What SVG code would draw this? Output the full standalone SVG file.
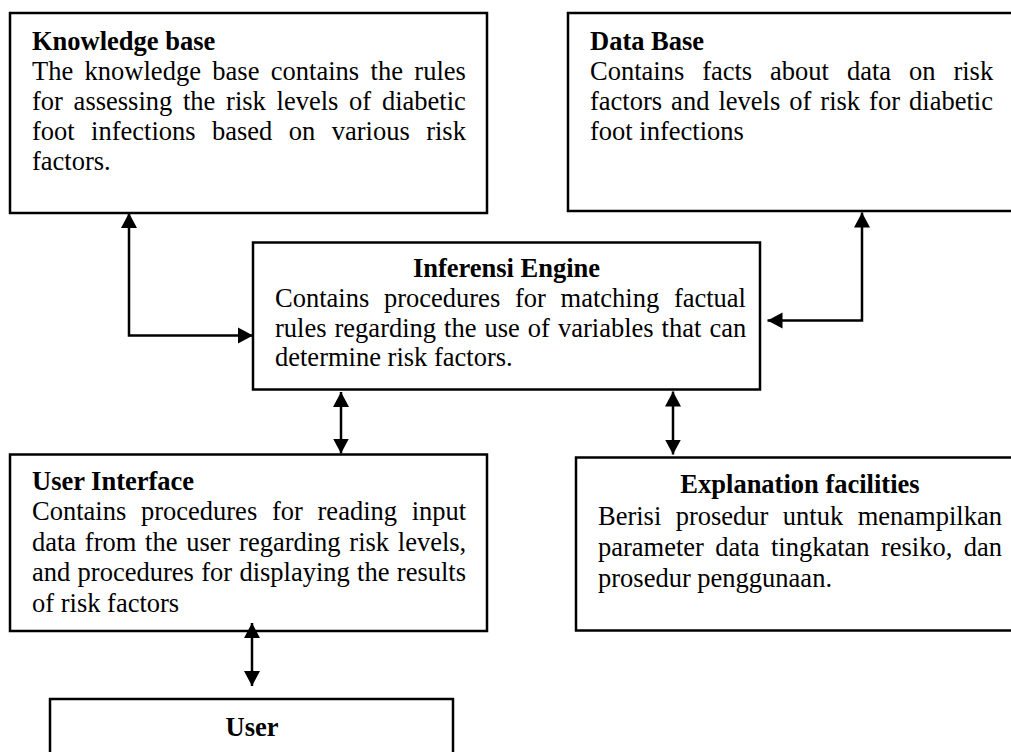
<svg xmlns="http://www.w3.org/2000/svg" width="1011" height="752" viewBox="0 0 1011 752">
<style>
  .box { fill: #fff; stroke: #000; stroke-width: 2.5; }
  text { font-family: "Liberation Serif", "Times New Roman", serif; font-size: 26.5px; fill: #000; }
  .t { font-weight: bold; }
  .c { text-anchor: middle; }
  .conn { fill: none; stroke: #000; stroke-width: 2.5; }
</style>
<defs>
  <marker id="ah" markerUnits="userSpaceOnUse" markerWidth="16" markerHeight="18" refX="15" refY="8" orient="auto-start-reverse" viewBox="0 0 16 16">
    <path d="M0,0 L15,8 L0,16 Z" fill="#000"/>
  </marker>
</defs>
<rect width="1011" height="752" fill="#fff"/>

<g id="knowledge-base">
  <rect class="box" x="10" y="13" width="477" height="200"/>
  <text class="t" x="32" y="50">Knowledge base</text>
  <text x="32" y="80" word-spacing="4.8">The knowledge base contains the rules</text>
  <text x="32" y="110" word-spacing="4.1">for assessing the risk levels of diabetic</text>
  <text x="32" y="140" word-spacing="9.8">foot infections based on various risk</text>
  <text x="32" y="170">factors.</text>
</g>

<g id="data-base">
  <rect class="box" x="568" y="13" width="460" height="198"/>
  <text class="t" x="590" y="50">Data Base</text>
  <text x="590" y="80" word-spacing="11.3">Contains facts about data on risk</text>
  <text x="590" y="110" word-spacing="2.4">factors and levels of risk for diabetic</text>
  <text x="590" y="140">foot infections</text>
</g>

<g id="inference-engine">
  <rect class="box" x="253" y="242.5" width="507" height="147"/>
  <text class="t c" x="506.5" y="277">Inferensi Engine</text>
  <text x="275" y="307" word-spacing="8.1">Contains procedures for matching factual</text>
  <text x="275" y="337" word-spacing="1.4">rules regarding the use of variables that can</text>
  <text x="275" y="366">determine risk factors.</text>
</g>

<g id="user-interface">
  <rect class="box" x="10" y="454.5" width="477" height="176.5"/>
  <text class="t" x="32" y="489.5">User Interface</text>
  <text x="32" y="520" word-spacing="8.1">Contains procedures for reading input</text>
  <text x="32" y="550.5" word-spacing="2.1">data from the user regarding risk levels,</text>
  <text x="32" y="581" word-spacing="0.7">and procedures for displaying the results</text>
  <text x="32" y="611.5">of risk factors</text>
</g>

<g id="explanation-facilities">
  <rect class="box" x="576" y="457.5" width="452" height="173"/>
  <text class="t c" x="800" y="493">Explanation facilities</text>
  <text x="598" y="525" word-spacing="7.8">Berisi prosedur untuk menampilkan</text>
  <text x="598" y="555.5" word-spacing="4.8">parameter data tingkatan resiko, dan</text>
  <text x="598" y="586.5">prosedur penggunaan.</text>
</g>

<g id="user">
  <rect class="box" x="50" y="699" width="403" height="70"/>
  <text class="t c" x="252" y="736">User</text>
</g>

<g id="connectors">
  <path class="conn" d="M129,213 L129,335.5 L253,335.5" marker-start="url(#ah)" marker-end="url(#ah)"/>
  <path class="conn" d="M862,212.5 L862,320.5 L767.5,320.5" marker-start="url(#ah)" marker-end="url(#ah)"/>
  <path class="conn" d="M341,392 L341,453.5" marker-start="url(#ah)" marker-end="url(#ah)"/>
  <path class="conn" d="M673,391.5 L673,454.5" marker-start="url(#ah)" marker-end="url(#ah)"/>
  <path class="conn" d="M252,623 L252,686" marker-start="url(#ah)" marker-end="url(#ah)"/>
</g>
</svg>
